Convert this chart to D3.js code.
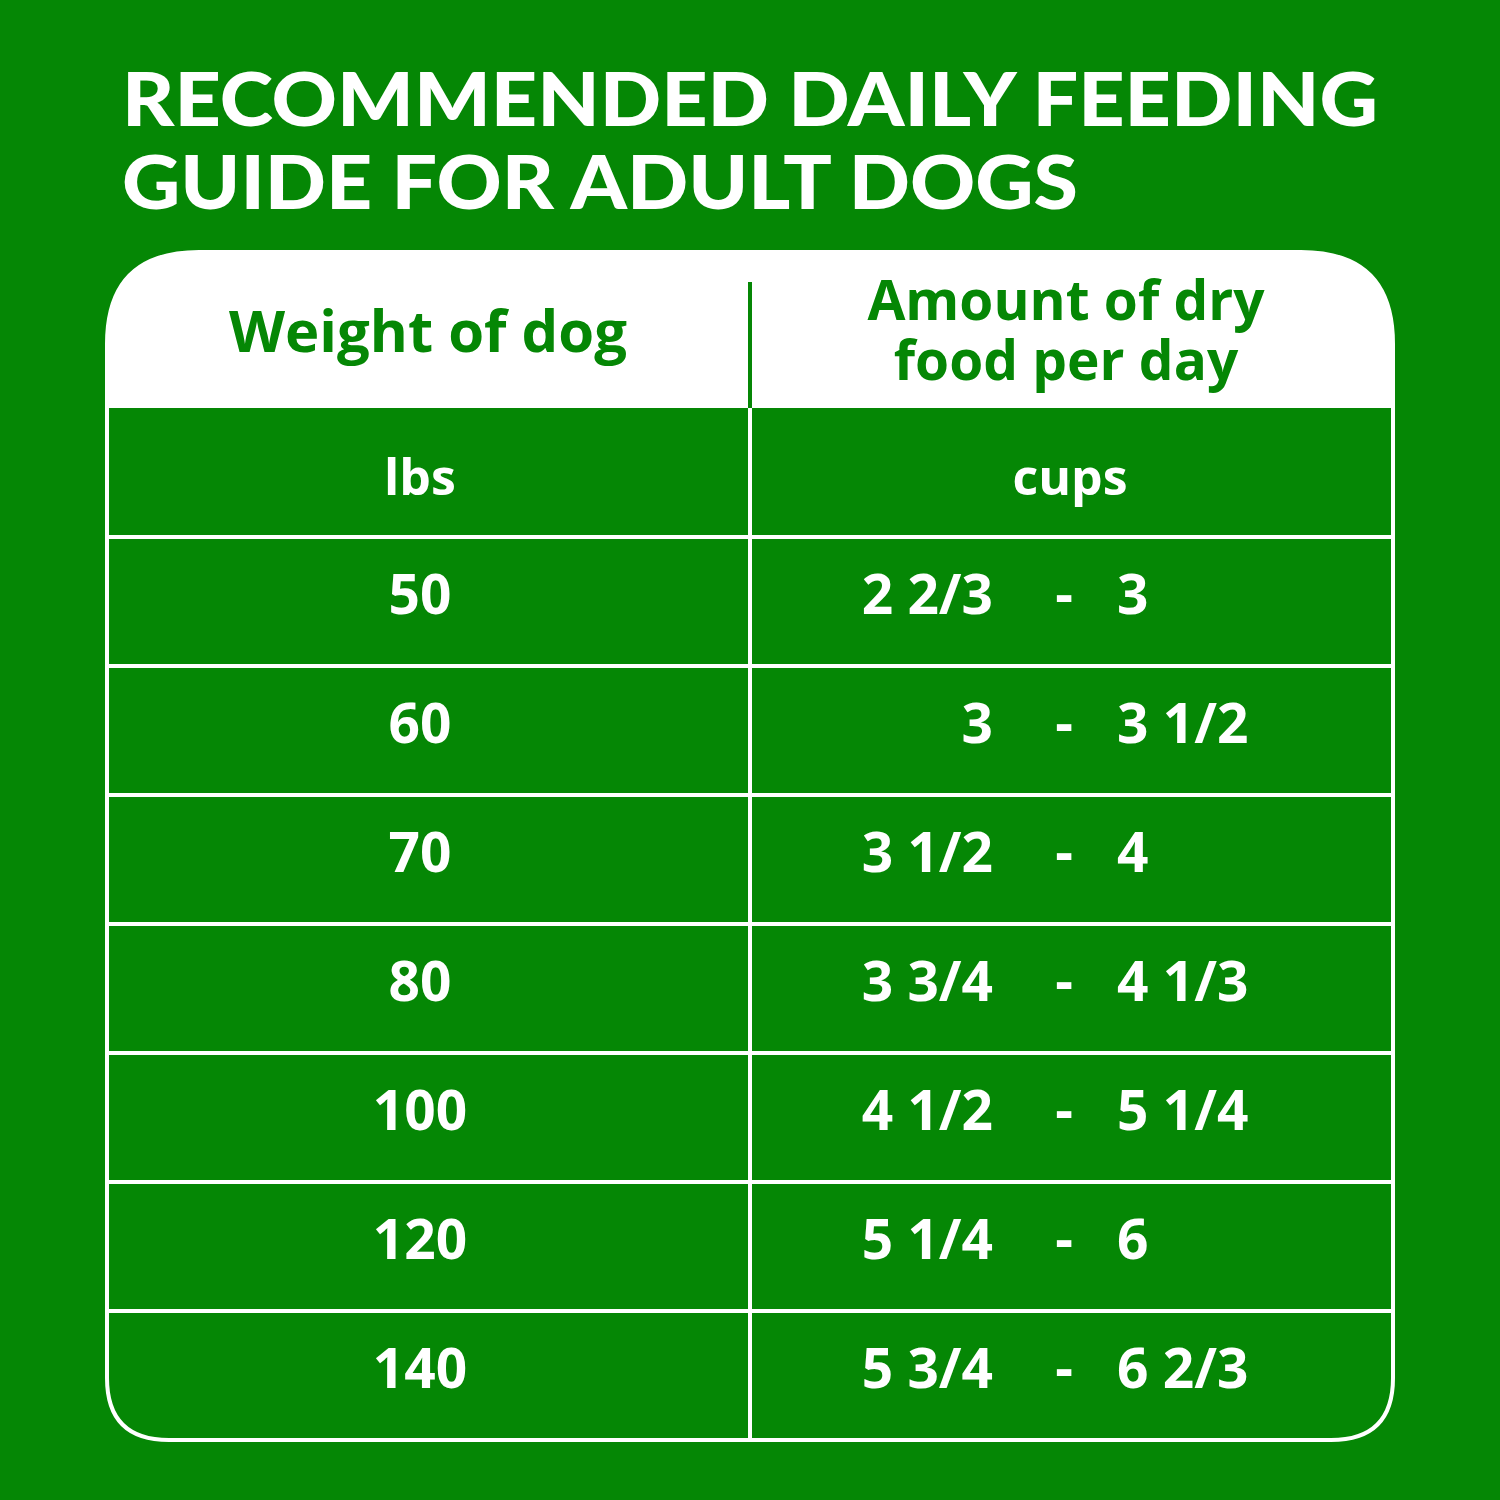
<!DOCTYPE html>
<html><head><meta charset="utf-8">
<script src="https://cdn.jsdelivr.net/npm/d3@7"></script>
<style>body{margin:0;background:#058705}</style></head>
<body><svg id="c" width="1500" height="1500"></svg>
<script>
const titleLines = ["RECOMMENDED DAILY FEEDING", "GUIDE FOR ADULT DOGS"];
const headers = ["Weight of dog", ["Amount of dry", "food per day"]];
const units = ["lbs", "cups"];
const weights = ["50", "60", "70", "80", "100", "120", "140"];
const lowCups = ["2 2/3", "3", "3 1/2", "3 3/4", "4 1/2", "5 1/4", "5 3/4"];
const highCups = ["3", "3 1/2", "4", "4 1/3", "5 1/4", "6", "6 2/3"];

const G = "#058705", W = "#fff";
const svg = d3.select("#c");
svg.append("rect").attr("width",1500).attr("height",1500).attr("fill",G);

svg.selectAll(".t").data(titleLines).join("text")
  .attr("x",122).attr("y",(d,i)=>126+i*83)
  .attr("fill",W).attr("font-family","Lato").attr("font-weight",900)
  .attr("font-size",74).attr("textLength",(d,i)=>i?956:1256)
  .attr("lengthAdjust","spacingAndGlyphs").text(d=>d);

const L=107,R=1393,T=252,B=1440,M=750,HB=408,rt=92,rb=62;
const rows = ["units", ...weights];
const y = d3.scaleBand().domain(rows).range([HB,B]);

svg.append("path").attr("fill",W)
  .attr("d",`M${L},${HB} L${L},${T+rt} Q${L},${T} ${L+rt},${T} L${R-rt},${T} Q${R},${T} ${R},${T+rt} L${R},${HB} Z`);
svg.append("path").attr("fill","none").attr("stroke",W).attr("stroke-width",4)
  .attr("d",`M${L},${T+rt} Q${L},${T} ${L+rt},${T} L${R-rt},${T} Q${R},${T} ${R},${T+rt} L${R},${B-rb} Q${R},${B} ${R-rb},${B} L${L+rb},${B} Q${L},${B} ${L},${B-rb} Z`);
svg.append("line").attr("x1",M).attr("x2",M).attr("y1",282).attr("y2",HB).attr("stroke",G).attr("stroke-width",4);
svg.append("line").attr("x1",M).attr("x2",M).attr("y1",HB).attr("y2",B).attr("stroke",W).attr("stroke-width",4);
svg.selectAll(".rl").data(rows.slice(1)).join("line")
  .attr("x1",L).attr("x2",R).attr("y1",d=>y(d)).attr("y2",d=>y(d)).attr("stroke",W).attr("stroke-width",4);

const font = "Open Sans";
svg.append("text").attr("x",428).attr("y",352).attr("text-anchor","middle").attr("fill",G)
  .attr("font-family",font).attr("font-weight",700).attr("font-size",58).text(headers[0]);
svg.selectAll(".h2").data(headers[1]).join("text").attr("x",1066).attr("y",(d,i)=>320+i*60)
  .attr("text-anchor","middle").attr("fill",G).attr("font-family",font).attr("font-weight",700).attr("font-size",55).text(d=>d);

const cy = d => y(d)+y.bandwidth()/2+12;
svg.append("text").attr("x",420).attr("y",y("units")+y.bandwidth()/2+22).attr("text-anchor","middle").attr("fill",W)
  .attr("font-family",font).attr("font-weight",700).attr("font-size",50).text(units[0]);
svg.append("text").attr("x",1070).attr("y",y("units")+y.bandwidth()/2+22).attr("text-anchor","middle").attr("fill",W)
  .attr("font-family",font).attr("font-weight",700).attr("font-size",50).text(units[1]);

const g = svg.append("g").attr("fill",W).attr("font-family",font).attr("font-weight",700).attr("font-size",55);
weights.forEach((w,i)=>{
  g.append("text").attr("x",420).attr("y",cy(w)).attr("text-anchor","middle").text(w);
  g.append("text").attr("x",993).attr("y",cy(w)).attr("text-anchor","end").text(lowCups[i]);
  g.append("text").attr("x",1064).attr("y",cy(w)).attr("text-anchor","middle").text("-");
  g.append("text").attr("x",1117).attr("y",cy(w)).attr("text-anchor","start").text(highCups[i]);
});
</script></body></html>
